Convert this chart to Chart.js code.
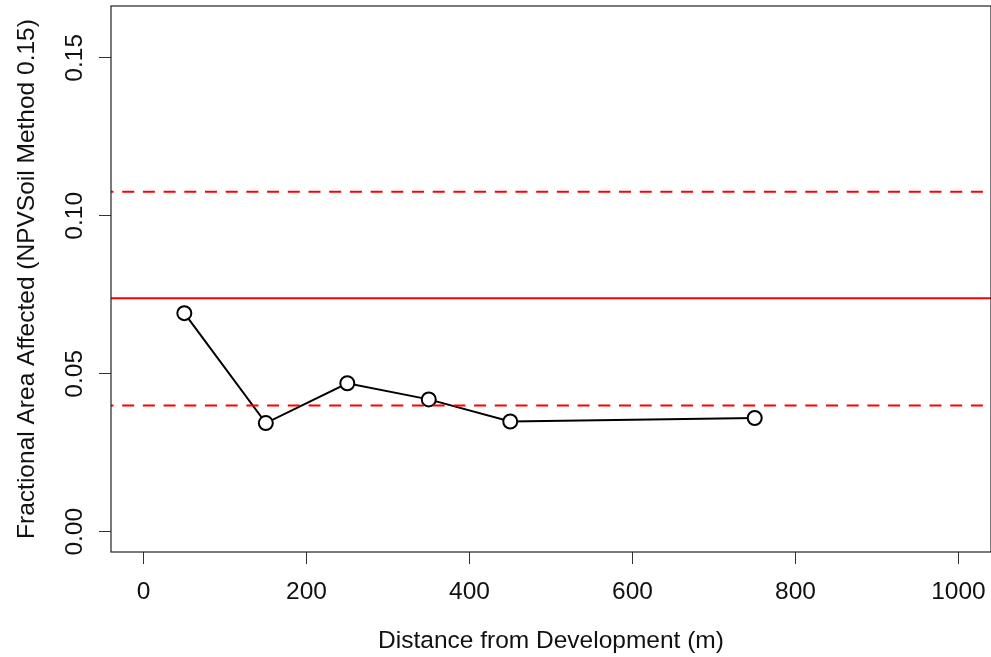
<!DOCTYPE html>
<html>
<head>
<meta charset="utf-8">
<script src="https://cdn.jsdelivr.net/npm/chart.js@4.4.1/dist/chart.umd.min.js"></script>
<style>
  html, body { margin: 0; padding: 0; background: #ffffff; }
  #wrap { width: 991px; height: 657px; position: relative; }
</style>
</head>
<body>
<div id="wrap"><canvas id="c" width="991" height="657"></canvas></div>
<script>
// ---- data ----
const distances = [50, 150, 250, 350, 450, 750];
const fractionAffected = [0.0692, 0.0344, 0.0470, 0.0419, 0.0349, 0.0360];
const meanLine = [0.0739];
const lowerBand = [0.0400];
const upperBand = [0.1076];
const xTickValues = [0, 200, 400, 600, 800, 1000];
const xTickLabels = ['0', '200', '400', '600', '800', '1000'];
const yTickValues = [0, 0.05, 0.10, 0.15];
const yTickLabels = ['0.00', '0.05', '0.10', '0.15'];
const xLimits = [-40, 1040];
const yLimits = [-0.0064, 0.1664];
const xTitle = 'Distance from Development (m)';
const yTitle = 'Fractional Area Affected (NPVSoil Method 0.15)';

const FONT_FAMILY = '"Liberation Sans", Arial, sans-serif';
const FONT = '24.5px ' + FONT_FAMILY;

function hline(v, dashed) {
  return {
    data: [{x: xLimits[0], y: v}, {x: xLimits[1], y: v}],
    borderColor: '#ff0000',
    borderWidth: 2,
    borderDash: dashed ? [12, 8.7] : [],
    borderDashOffset: dashed ? 9.5 : 0,
    pointRadius: 0,
    fill: false,
    tension: 0
  };
}

function noPad(s) {
  s.paddingLeft = 0; s.paddingRight = 0; s.paddingTop = 0; s.paddingBottom = 0;
}

const textPlugin = {
  id: 'rtext',
  afterDraw(chart) {
    const ctx = chart.ctx;
    const a = chart.chartArea;
    const ys = chart.scales.y;
    ctx.save();
    // box
    ctx.strokeStyle = '#222';
    ctx.lineWidth = 1.2;
    ctx.strokeRect(a.left, a.top, a.right - a.left, a.bottom - a.top);
    ctx.fillStyle = '#111';
    ctx.font = FONT;
    // y tick labels (rotated)
    ctx.textAlign = 'center';
    ctx.textBaseline = 'alphabetic';
    yTickValues.forEach((v, i) => {
      const py = ys.getPixelForValue(v);
      ctx.save();
      ctx.translate(82, py);
      ctx.rotate(-Math.PI / 2);
      ctx.fillText(yTickLabels[i], 0, 0);
      ctx.restore();
    });
    // y title
    ctx.save();
    ctx.translate(33.5, (a.top + a.bottom) / 2);
    ctx.rotate(-Math.PI / 2);
    ctx.fillText(yTitle, 0, 0);
    ctx.restore();
    // x title
    ctx.fillText(xTitle, (a.left + a.right) / 2, 647.7);
    ctx.restore();
  }
};

new Chart(document.getElementById('c'), {
  type: 'line',
  data: {
    datasets: [
      hline(meanLine[0], false),
      hline(lowerBand[0], true),
      hline(upperBand[0], true),
      {
        data: distances.map((d, i) => ({x: d, y: fractionAffected[i]})),
        borderColor: '#000',
        borderWidth: 2,
        pointRadius: 7,
        pointBorderWidth: 2,
        pointBorderColor: '#000',
        pointBackgroundColor: '#fff',
        fill: false,
        tension: 0
      }
    ]
  },
  options: {
    responsive: false,
    animation: false,
    devicePixelRatio: 1,
    layout: { autoPadding: false, padding: { top: 6, right: 0, left: 0, bottom: 0 } },
    plugins: { legend: { display: false }, tooltip: { enabled: false } },
    scales: {
      x: {
        type: 'linear',
        min: xLimits[0],
        max: xLimits[1],
        afterBuildTicks(s) { s.ticks = xTickValues.map(v => ({value: v})); },
        afterFit(s) { s.height = 105; noPad(s); },
        ticks: {
          autoSkip: false,
          maxRotation: 0,
          minRotation: 0,
          padding: 14,
          color: '#111',
          font: { family: FONT_FAMILY, size: 24.5 },
          callback(v) { const i = xTickValues.indexOf(v); return i >= 0 ? xTickLabels[i] : ''; }
        },
        grid: { display: true, drawOnChartArea: false, drawTicks: true, tickLength: 12, color: '#333', lineWidth: 1 },
        border: { display: false }
      },
      y: {
        type: 'linear',
        min: yLimits[0],
        max: yLimits[1],
        afterBuildTicks(s) { s.ticks = yTickValues.map(v => ({value: v})); },
        afterFit(s) { s.width = 111; noPad(s); },
        ticks: { display: false },
        grid: { display: true, drawOnChartArea: false, drawTicks: true, tickLength: 12, color: '#333', lineWidth: 1 },
        border: { display: false }
      }
    }
  },
  plugins: [textPlugin]
});
</script>
</body>
</html>
